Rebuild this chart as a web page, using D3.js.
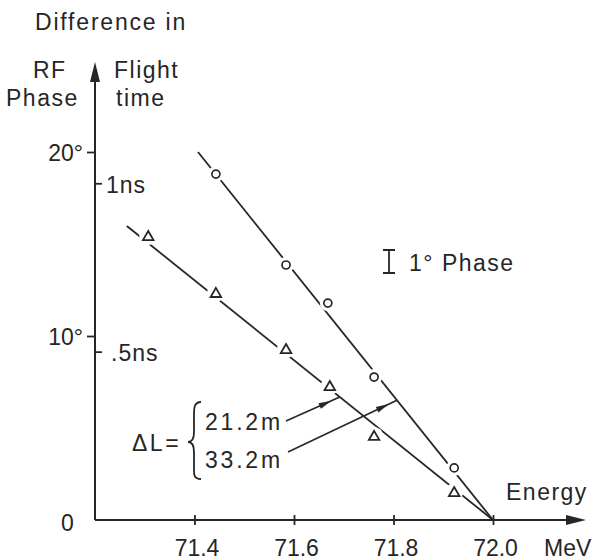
<!DOCTYPE html>
<html><head><meta charset="utf-8">
<script src="https://cdn.jsdelivr.net/npm/d3@7"></script>
<style>
html,body{margin:0;padding:0;background:#fff;}
svg text{font-family:"Liberation Sans",Arial,sans-serif;fill:#262626;}
</style></head>
<body>
<svg id="chart" width="592" height="560"></svg>
<script>
// ---- data ----
const energyTicks = [71.4, 71.6, 71.8, 72.0];
const energyTickLabels = ["71.4", "71.6", "71.8", "72.0"];
const phaseTicks = [0, 10, 20];
const phaseTickLabels = ["0", "10°", "20°"];
const timeTicks = [0.5, 1];
const timeTickLabels = [".5ns", "1ns"];
const degPerNs = 18.3;

const circleEnergy = [71.443, 71.584, 71.668, 71.761, 71.922];
const circlePhase  = [18.8, 13.86, 11.79, 7.77, 2.83];
const triEnergy = [71.307, 71.443, 71.584, 71.672, 71.761, 71.922];
const triPhase  = [15.43, 12.34, 9.29, 7.28, 4.57, 1.52];

const circleFitEnergy = [71.407, 72.0];
const circleFitPhase  = [20.0, 0];
const triFitEnergy = [71.264, 72.0];
const triFitPhase  = [15.98, 0];

const deltaL = ["21.2m", "33.2m"];
const arrowTargetEnergy = [71.692, 71.807]; // on triangle fit, on circle fit

// ---- scales ----
const ink = "#262626";
const svg = d3.select("#chart");
const x = d3.scaleLinear().domain([71.2, 72.0]).range([95, 493]);
const y = d3.scaleLinear().domain([0, 20]).range([520, 152]);
const yNs = d3.scaleLinear().domain([0, 1]).range([y(0), y(degPerNs)]);
const FS = 23;
const FF = '"Liberation Sans",Arial,sans-serif';

// ---- axes lines with arrows ----
const x0 = x(71.2), y0 = y(0);
svg.append("line").attr("x1", x0).attr("y1", y0).attr("x2", x0).attr("y2", 70)
  .attr("stroke", ink).attr("stroke-width", 2);
svg.append("path").attr("d", `M${x0},62 L${x0-5},82 L${x0+5},82 Z`).attr("fill", ink);
svg.append("line").attr("x1", x0).attr("y1", y0).attr("x2", 578).attr("y2", y0)
  .attr("stroke", ink).attr("stroke-width", 2);
svg.append("path").attr("d", `M586,${y0} L566,${y0-5} L566,${y0+5} Z`).attr("fill", ink);

// x axis ticks
const xAxis = d3.axisBottom(x).tickValues(energyTicks)
  .tickFormat((d, i) => energyTickLabels[i]).tickSize(5).tickPadding(17);
const gx = svg.append("g").attr("transform", `translate(0,${y0})`).call(xAxis);
gx.select(".domain").remove();
gx.selectAll(".tick line").attr("y1", -5).attr("y2", 5).attr("stroke", ink).attr("stroke-width", 1.8);
gx.selectAll(".tick text").attr("font-size", FS).attr("dx", 2).attr("dy", 0)
  .attr("y", 36).attr("fill", ink).style("font-family", FF);

// y axis (degrees) on left
const yAxis = d3.axisLeft(y).tickValues(phaseTicks)
  .tickFormat((d, i) => phaseTickLabels[i]).tickSize(8).tickPadding(4);
const gy = svg.append("g").attr("transform", `translate(${x0},0)`).call(yAxis);
gy.select(".domain").remove();
gy.selectAll(".tick line").attr("stroke", ink).attr("stroke-width", 1.8)
  .filter(d => d === 0).remove();
gy.selectAll(".tick text").attr("font-size", FS).attr("fill", ink)
  .style("font-family", FF)
  .attr("dy", "0.36em")
  .attr("x", -12);
// align "0" with the digits of the degree labels
const degW = (() => { const t = svg.append("text").attr("font-size", FS).text("°"); const w = t.node().getComputedTextLength(); t.remove(); return w; })();
gy.selectAll(".tick text").filter(d => d === 0).attr("x", -12 - degW).attr("dy", "0.45em");

// flight time ticks on right
const tAxis = d3.axisRight(yNs).tickValues(timeTicks)
  .tickFormat((d, i) => timeTickLabels[i]).tickSize(7).tickPadding(4);
const gt = svg.append("g").attr("transform", `translate(${x0},0)`).call(tAxis);
gt.select(".domain").remove();
gt.selectAll(".tick line").attr("stroke", ink).attr("stroke-width", 1.8);
gt.selectAll(".tick text").attr("font-size", FS).attr("fill", ink)
  .style("font-family", FF)
  .attr("dy", "0.4em").attr("x", d => d < 1 ? 16 : 11).attr("letter-spacing", 1);

// ---- axis titles ----
function label(txt, tx, ty, ls, fs) {
  return svg.append("text").attr("x", tx).attr("y", ty)
    .style("font-size", (fs || FS) + "px")
    .attr("letter-spacing", ls === undefined ? 1.5 : ls).text(txt);
}
label("Difference in", 35, 30, 1.8);
label("RF", 33, 78);
label("Phase", 6, 106);
label("Flight", 114, 78);
label("time", 116, 106);
label("Energy", 506, 500);
label("MeV", 544, 556, 0, 23);

// ---- fit lines ----
const lineGen = d3.line().x(d => x(d[0])).y(d => y(d[1]));
svg.append("path").datum(circleFitEnergy.map((e, i) => [e, circleFitPhase[i]]))
  .attr("d", lineGen).attr("fill", "none").attr("stroke", ink).attr("stroke-width", 1.8);
svg.append("path").datum(triFitEnergy.map((e, i) => [e, triFitPhase[i]]))
  .attr("d", lineGen).attr("fill", "none").attr("stroke", ink).attr("stroke-width", 1.8);

// ---- markers with white gaps ----
const circ = circleEnergy.map((e, i) => [e, circlePhase[i]]);
const tri = triEnergy.map((e, i) => [e, triPhase[i]]);
svg.append("g").selectAll("circle").data(circ).join("circle")
  .attr("cx", d => x(d[0])).attr("cy", d => y(d[1])).attr("r", 8).attr("fill", "#fff");
svg.append("g").selectAll("circle").data(tri).join("circle")
  .attr("cx", d => x(d[0])).attr("cy", d => y(d[1])).attr("r", 9).attr("fill", "#fff");
svg.append("g").selectAll("circle").data(circ).join("circle")
  .attr("cx", d => x(d[0])).attr("cy", d => y(d[1])).attr("r", 4)
  .attr("fill", "#fff").attr("stroke", ink).attr("stroke-width", 1.7);
const triSym = d3.symbol().type(d3.symbolTriangle).size(48);
svg.append("g").selectAll("path").data(tri).join("path")
  .attr("transform", d => `translate(${x(d[0])},${y(d[1]) + 1})`)
  .attr("d", triSym).attr("fill", "#fff").attr("stroke", ink).attr("stroke-width", 1.8)
  .attr("stroke-linejoin", "miter");

// ---- legend: 1° error bar ----
const lx = 389, lyMid = 261.5;
const half = (y(0) - y(1.25)) / 2;
svg.append("path").attr("d",
  `M${lx-6},${lyMid-half} H${lx+6} M${lx},${lyMid-half} V${lyMid+half} M${lx-6},${lyMid+half} H${lx+6}`)
  .attr("stroke", ink).attr("stroke-width", 1.8).attr("fill", "none");
label("1° Phase", 409, 271, 1.5);

// ---- ΔL annotation ----
label("ΔL=", 132, 451, 2.5);
svg.append("path")
  .attr("d", "M201,402 C193,402 194,410 194,420 L194,432 C194,439 192,442 188,442 C192,442 194,445 194,452 L194,466 C194,474 193,479 201,479")
  .attr("fill", "none").attr("stroke", ink).attr("stroke-width", 1.8);
label(deltaL[0], 205, 430, 2.8);
label(deltaL[1], 205, 468, 2.8);

function fitY(E, fe, fp) {
  const t = (E - fe[0]) / (fe[1] - fe[0]);
  return fp[0] + t * (fp[1] - fp[0]);
}
const arrows = [
  { sx: 286, sy: 421, ex: x(arrowTargetEnergy[0]), ey: y(fitY(arrowTargetEnergy[0], triFitEnergy, triFitPhase)) },
  { sx: 288, sy: 452, ex: x(arrowTargetEnergy[1]), ey: y(fitY(arrowTargetEnergy[1], circleFitEnergy, circleFitPhase)) }
];
arrows.forEach(a => {
  svg.append("line").attr("x1", a.sx).attr("y1", a.sy).attr("x2", a.ex).attr("y2", a.ey)
    .attr("stroke", ink).attr("stroke-width", 1.6);
  const dx = a.ex - a.sx, dy = a.ey - a.sy, L = Math.hypot(dx, dy);
  const ux = dx / L, uy = dy / L;
  const tx = a.ex - ux * 9, ty = a.ey - uy * 9;
  const bx = tx - ux * 13, by = ty - uy * 13;
  svg.append("path").attr("d",
    `M${tx},${ty} L${bx - uy * 3},${by + ux * 3} L${bx + uy * 3},${by - ux * 3} Z`).attr("fill", ink);
});
</script>
</body></html>
